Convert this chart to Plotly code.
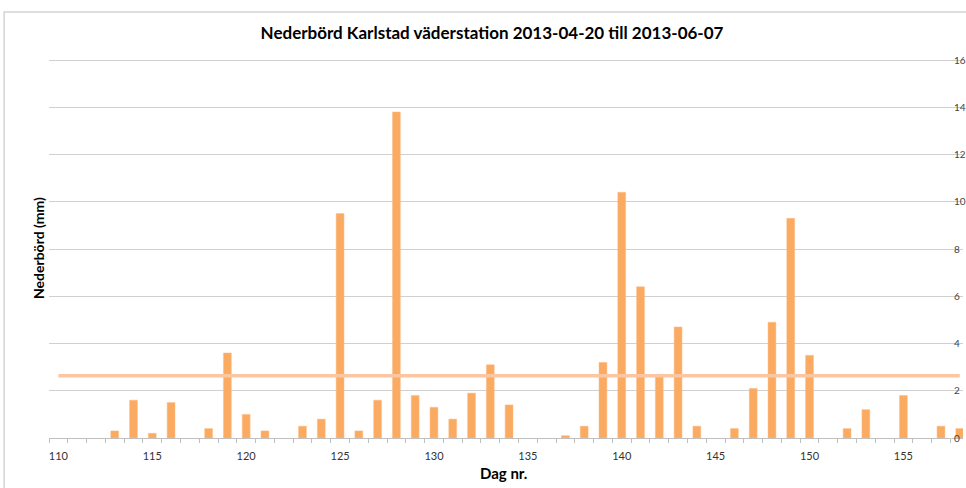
import plotly.graph_objects as go

# Data
days = [113, 114, 115, 116, 118, 119, 120, 121, 123, 124, 125, 126, 127, 128,
        129, 130, 131, 132, 133, 134, 137, 138, 139, 140, 141, 142, 143, 144,
        146, 147, 148, 149, 150, 152, 153, 155, 157, 158]
precip_mm = [0.3, 1.6, 0.2, 1.5, 0.4, 3.6, 1.0, 0.3, 0.5, 0.8, 9.5, 0.3, 1.6, 13.8,
             1.8, 1.3, 0.8, 1.9, 3.1, 1.4, 0.1, 0.5, 3.2, 10.4, 6.4, 2.7, 4.7, 0.5,
             0.4, 2.1, 4.9, 9.3, 3.5, 0.4, 1.2, 1.8, 0.5, 0.4]
avg_days = [110, 158]
avg_value = [2.63, 2.63]
x_tick_vals = [110, 115, 120, 125, 130, 135, 140, 145, 150, 155]
y_tick_vals = [0, 2, 4, 6, 8, 10, 12, 14, 16]

W, H = 966, 488
PX_PER_MM = 23.625
y_top = 16 + 4 / PX_PER_MM
L, R, B = 49, 0, 50
T = H - B - round(y_top * PX_PER_MM)
pw, ph = W - L - R, H - T - B

def px_x(px):
    return (px - L) / pw

def px_y(py):
    return (H - B - py) / ph

FONT = "Lato"

fig = go.Figure()
fig.add_trace(go.Bar(
    x=days, y=precip_mm, width=0.42,
    marker=dict(color="#FBAA62", line=dict(color="#FDBF8A", width=0.5)),
    showlegend=False,
))
fig.add_trace(go.Scatter(
    x=avg_days, y=avg_value, mode="lines",
    line=dict(color="#FCC6A2", width=3.5),
    showlegend=False,
))

fig.update_layout(
    width=W, height=H,
    margin=dict(l=L, r=R, t=T, b=B),
    paper_bgcolor="white", plot_bgcolor="white",
    font=dict(family=FONT, color="#333333"),
    title=dict(text="<b>Nederbörd Karlstad väderstation 2013-04-20 till 2013-06-07</b>",
               x=492 / W, xanchor="center", y=1 - 33 / H, yanchor="middle",
               font=dict(family=FONT, size=17, color="#000000")),
    xaxis=dict(
        range=[109.5, 109.5 + pw / 18.84], domain=[0, 1],
        tickmode="array", tickvals=x_tick_vals,
        ticks="outside", ticklen=4, tickcolor="rgba(0,0,0,0)",
        ticklabelstandoff=4,
        tickfont=dict(size=11, color="#333333"),
        showgrid=False, zeroline=False,
        showline=True, linecolor="#BFBFBF", linewidth=1,
        minor=dict(ticks="outside", ticklen=4, tick0=109.5, dtick=1,
                   tickcolor="#BFBFBF", showgrid=False),
    ),
    yaxis=dict(
        range=[0, y_top], side="right", anchor="free", position=px_x(951),
        tickmode="array", tickvals=y_tick_vals,
        ticks="outside", ticklen=3, tickcolor="#D0D0D0",
        tickfont=dict(size=10, color="#444444"),
        showgrid=True, gridcolor="#D0D0D0", gridwidth=1,
        zeroline=False, showline=False,
    ),
    bargap=0.5,
)

fig.add_annotation(text="<b>Nederbörd (mm)</b>", xref="paper", yref="paper",
                   x=px_x(38), y=px_y(248), textangle=-90, showarrow=False,
                   xanchor="center", yanchor="middle",
                   font=dict(family=FONT, size=14, color="#000000"))
fig.add_annotation(text="<b>Dag nr.</b>", xref="paper", yref="paper",
                   x=px_x(505), y=px_y(473), showarrow=False,
                   xanchor="center", yanchor="middle",
                   font=dict(family=FONT, size=15, color="#000000"))

fig.add_shape(type="rect", xref="paper", yref="paper",
              x0=px_x(4), x1=px_x(1000), y0=px_y(520), y1=px_y(12),
              line=dict(color="#D4D4D4", width=1.5), layer="below")

fig.write_html("out.html", config={"displayModeBar": False},
               post_script="document.body.style.margin='0';document.body.style.overflow='hidden';")
